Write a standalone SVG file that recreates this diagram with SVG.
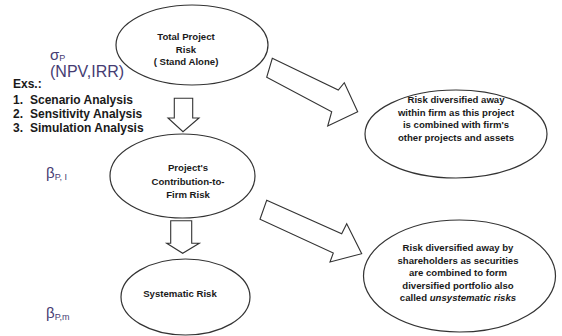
<svg xmlns="http://www.w3.org/2000/svg" width="562" height="336" viewBox="0 0 562 336">
<style>
.node{fill:#fff;stroke:#333;stroke-width:1.2}
.arr{fill:#fff;stroke:#333;stroke-width:1.1;stroke-linejoin:miter}
.t{font-family:"Liberation Sans",Arial,sans-serif;font-size:9.6px;font-weight:bold;fill:#1a1a1a;text-anchor:middle}
.lbl{font-family:"Liberation Sans",Arial,sans-serif;fill:#453c72}
.ex{font-family:"Liberation Sans",Arial,sans-serif;font-size:12px;font-weight:bold;fill:#1a1a1a}
</style>
<rect width="562" height="336" fill="#fff"/>
<g id="connectors">
<polygon class="arr" points="174.3,98.3 192.7,98.3 192.7,118 199,118 183,131.7 168,118 174.3,118"/>
<polygon class="arr" points="170.7,220.7 191.7,220.7 191.7,243.3 199.3,243.3 182.7,253.3 166.7,243.3 170.7,243.3"/>
<polygon class="arr" points="272.3,58.3 338.3,90 344.3,82.7 357.7,111.7 327.7,126 331.7,111.7 266.7,77.3"/>
<polygon class="arr" points="266.7,200.3 341.7,233.7 346.7,223.7 361.7,253.7 330,262 333.3,253 260,219.3"/>
</g>
<g id="total-risk">
<ellipse class="node" cx="192" cy="45" rx="76" ry="40"/>
<text class="t" x="186" y="40">Total Project</text>
<text class="t" x="186" y="53">Risk</text>
<text class="t" x="186" y="65">( Stand Alone)</text>
</g>
<g id="contribution-risk">
<ellipse class="node" cx="182.5" cy="176" rx="72.5" ry="42"/>
<text class="t" x="188" y="171">Project's</text>
<text class="t" x="188" y="185">Contribution-to-</text>
<text class="t" x="188" y="198">Firm Risk</text>
</g>
<g id="systematic-risk">
<ellipse class="node" cx="185.5" cy="297" rx="64.5" ry="38"/>
<text class="t" x="180" y="297">Systematic Risk</text>
</g>
<g id="firm-diversified">
<ellipse class="node" cx="456" cy="134" rx="91" ry="44"/>
<text class="t" x="456" y="103">Risk diversified  away</text>
<text class="t" x="456" y="115.5">within firm as this project</text>
<text class="t" x="456" y="128">is combined  with firm's</text>
<text class="t" x="456" y="140.5">other projects and assets</text>
</g>
<g id="shareholder-diversified">
<ellipse class="node" cx="459.5" cy="276" rx="96" ry="56"/>
<text class="t" x="458" y="251">Risk diversified  away by</text>
<text class="t" x="458" y="263.5">shareholders as  securities</text>
<text class="t" x="458" y="276">are combined to form</text>
<text class="t" x="458" y="288.5">diversified  portfolio also</text>
<text class="t" x="458" y="301">called <tspan font-style="italic">unsystematic risks</tspan></text>
</g>
<g id="left-labels">
<text class="lbl" x="50" y="60" font-size="15">σ<tspan font-size="9" dy="1">P</tspan></text>
<text class="lbl" x="50" y="77" font-size="16">(NPV,IRR)</text>
<text class="ex" x="13" y="88" font-weight="normal">Exs.:</text>
<text class="ex" x="13" y="104">1.</text><text class="ex" x="30" y="104">Scenario Analysis</text>
<text class="ex" x="13" y="118">2.</text><text class="ex" x="30" y="118">Sensitivity Analysis</text>
<text class="ex" x="13" y="132">3.</text><text class="ex" x="30" y="132">Simulation Analysis</text>
<text class="lbl" x="46" y="178" font-size="15">β<tspan font-size="9" dy="2">P, I</tspan></text>
<text class="lbl" x="46" y="318" font-size="15">β<tspan font-size="9" dy="2">P,m</tspan></text>
</g>
</svg>
